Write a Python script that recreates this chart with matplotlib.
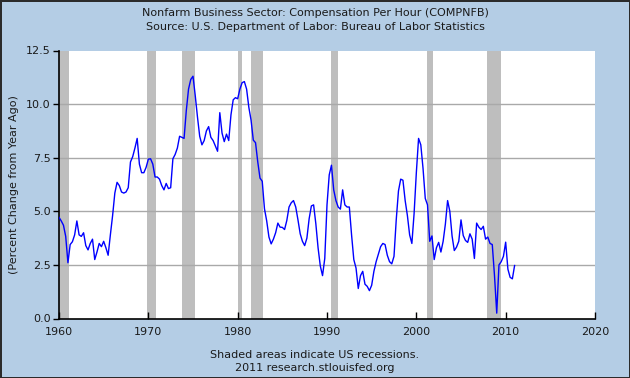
"""Nonfarm business compensation per hour, FRED-style chart."""

import matplotlib
matplotlib.use("Agg")
import matplotlib.pyplot as plt
import pandas as pd

# Percent change from year ago, quarterly from 1960Q1
compnfb_pct = [
    4.72, 4.55, 4.35, 3.83, 2.6, 3.45, 3.58, 3.9, 4.55, 3.9,
    3.83, 4.0, 3.4, 3.2, 3.5, 3.7, 2.75, 3.1, 3.5, 3.35,
    3.6, 3.3, 2.95, 3.9, 4.8, 5.85, 6.35, 6.2, 5.9, 5.85,
    5.9, 6.1, 7.3, 7.55, 7.95, 8.4, 7.2, 6.8, 6.8, 7.05,
    7.43, 7.45, 7.2, 6.6, 6.6, 6.5, 6.2, 6.0, 6.3, 6.06,
    6.1, 7.45, 7.65, 7.95, 8.5, 8.45, 8.4, 9.7, 10.7, 11.15,
    11.3, 10.4, 9.4, 8.5, 8.1, 8.3, 8.75, 8.95, 8.45, 8.3,
    8.05, 7.8, 9.6, 8.65, 8.25, 8.6, 8.3, 9.5, 10.2, 10.3,
    10.25, 10.7, 11.0, 11.05, 10.7, 9.85, 9.25, 8.32, 8.2, 7.3,
    6.55, 6.4, 5.12, 4.55, 3.8, 3.48, 3.7, 4.0, 4.45, 4.26,
    4.25, 4.15, 4.57, 5.2, 5.4, 5.5, 5.2, 4.6, 3.95, 3.6,
    3.4, 3.75, 4.65, 5.25, 5.3, 4.42, 3.3, 2.45, 2.0, 2.8,
    5.3, 6.7, 7.15, 6.0, 5.5, 5.2, 5.1, 6.0, 5.3, 5.2,
    5.2, 3.9, 2.75, 2.35, 1.4, 2.0, 2.2, 1.6, 1.5, 1.3,
    1.55, 2.2, 2.65, 3.0, 3.35, 3.5, 3.45, 2.95, 2.65, 2.55,
    2.9, 4.6, 5.95, 6.5, 6.45, 5.5, 4.8, 3.9, 3.5, 4.9,
    6.8, 8.4, 8.1, 7.0, 5.6, 5.3, 3.6, 3.85, 2.75, 3.3,
    3.55, 3.1, 3.6, 4.4, 5.5, 5.0, 3.85, 3.17, 3.33, 3.6,
    4.6, 3.87, 3.64, 3.55, 3.95, 3.7, 2.8, 4.45, 4.26, 4.15,
    4.3, 3.7, 3.8, 3.5, 3.45, 2.0, 0.25, 2.5, 2.65, 2.9,
    3.56, 2.3, 1.92, 1.85, 2.47,
]

# Recession spans in decimal years
recessions = [
    (1960.0, 1961.15),
    (1969.9, 1970.9),
    (1973.8, 1975.2),
    (1980.0, 1980.5),
    (1981.5, 1982.85),
    (1990.5, 1991.2),
    (2001.15, 2001.85),
    (2007.95, 2009.45),
]

x_ticks = [1960, 1970, 1980, 1990, 2000, 2010, 2020]
y_ticks = [0.0, 2.5, 5.0, 7.5, 10.0, 12.5]

BG_COLOR = "#b4cde5"
TEXT_COLOR = "#1a1a1a"

quarters = pd.period_range("1960Q1", periods=len(compnfb_pct), freq="Q")
years = quarters.year + (quarters.quarter - 1) / 4.0

fig = plt.figure(figsize=(6.3, 3.78), dpi=100, facecolor=BG_COLOR,
                 edgecolor="#2b2b2b", linewidth=2)
ax = fig.add_axes([59 / 630, 1 - 318.5 / 378, 536 / 630, 268 / 378])
ax.set_facecolor("white")

for start, end in recessions:
    ax.axvspan(start, end, color="#bebebe", linewidth=0, zorder=1)

for value in y_ticks[1:-1]:
    ax.axhline(value, color="#a9a9a9", linewidth=1, zorder=2)

ax.plot(years, compnfb_pct, color="#0000ff", linewidth=1, zorder=3)

ax.set_xlim(1960, 2020)
ax.set_ylim(0, 12.5)
ax.set_xticks(x_ticks)
ax.set_yticks(y_ticks)
ax.set_yticklabels([f"{v:.1f}" for v in y_ticks])

for side in ["top", "right"]:
    ax.spines[side].set_visible(False)
for side in ["left", "bottom"]:
    ax.spines[side].set_color("black")
    ax.spines[side].set_linewidth(1.2)

ax.tick_params(axis="y", direction="out", length=4, width=1,
               labelsize=8, labelcolor=TEXT_COLOR, pad=2)
ax.tick_params(axis="x", direction="in", length=5, width=1,
               labelsize=8, labelcolor=TEXT_COLOR, pad=6)

fig.text(0.5, 1 - 13 / 378, "Nonfarm Business Sector: Compensation Per Hour (COMPNFB)",
         ha="center", va="center", fontsize=8, color=TEXT_COLOR)
fig.text(0.5, 1 - 27 / 378, "Source: U.S. Department of Labor: Bureau of Labor Statistics",
         ha="center", va="center", fontsize=8, color=TEXT_COLOR)
fig.text(14 / 630, 1 - 185 / 378, "(Percent Change from Year Ago)",
         ha="center", va="center", rotation=90, fontsize=8, color=TEXT_COLOR)
fig.text(0.5, 1 - 355 / 378, "Shaded areas indicate US recessions.",
         ha="center", va="center", fontsize=8, color=TEXT_COLOR)
fig.text(0.5, 1 - 368 / 378, "2011 research.stlouisfed.org",
         ha="center", va="center", fontsize=8, color=TEXT_COLOR)

fig.savefig("out.png", dpi=100)
plt.close(fig)
